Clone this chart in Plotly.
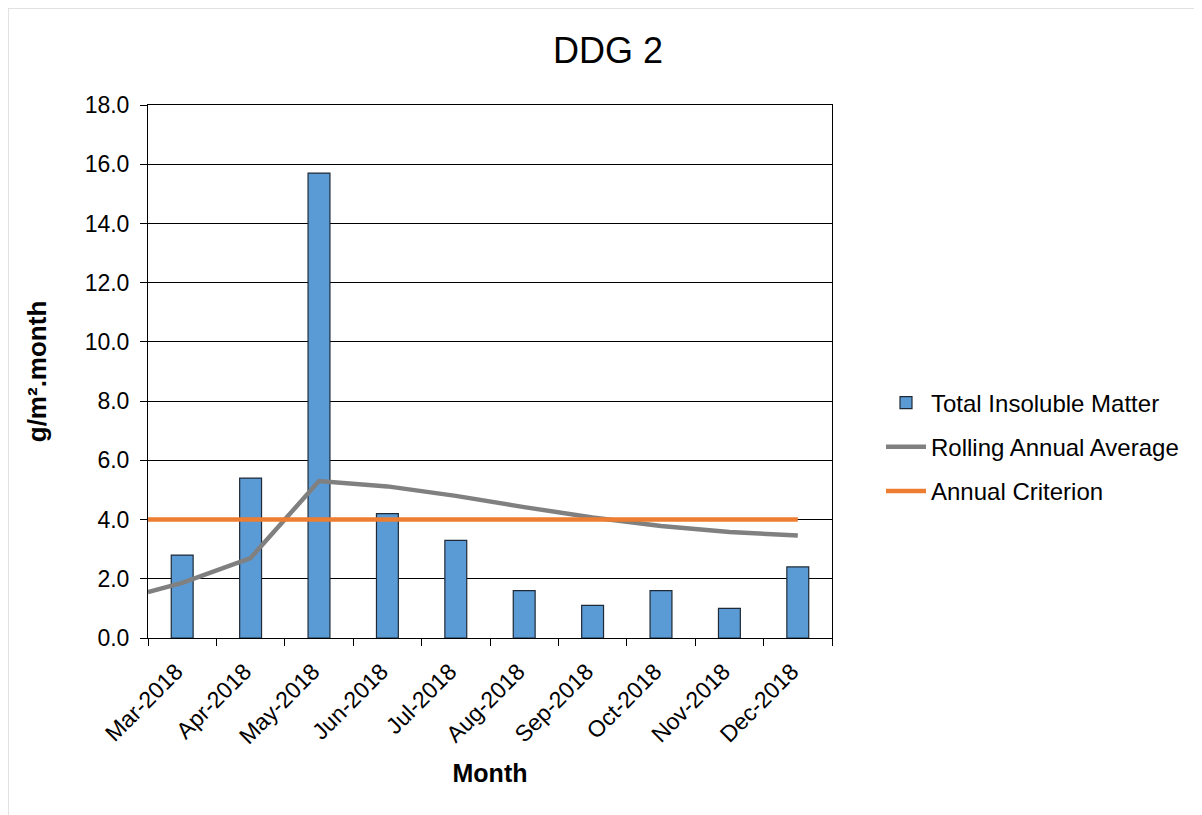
import plotly.graph_objects as go

# ---- data ----
months = ["Mar-2018", "Apr-2018", "May-2018", "Jun-2018", "Jul-2018",
          "Aug-2018", "Sep-2018", "Oct-2018", "Nov-2018", "Dec-2018"]
total_insoluble = [2.8, 5.4, 15.7, 4.2, 3.3, 1.6, 1.1, 1.6, 1.0, 2.4]
rolling_start = 1.55          # rolling average value shown at the left edge of the axis
rolling_avg = [1.86, 2.70, 5.30, 5.12, 4.80, 4.42, 4.07, 3.78, 3.58, 3.46]
annual_criterion = 4.0

# ---- layout geometry (page body has an 8px margin) ----
OFF = 8
W, H = 1202 - OFF, 815 - OFF
L, T = 148 - OFF, 105 - OFF
PW, PH = 684, 533
R, B = W - L - PW, H - T - PH
n = len(months)
idx = list(range(n))
edge = -0.5

font_family = "Liberation Sans, Arial, sans-serif"

fig = go.Figure()
fig.add_trace(go.Bar(
    x=months, y=total_insoluble, name="Total Insoluble Matter",
    marker=dict(color="#5B9BD5", line=dict(color="#1F2A36", width=1.2)),
    width=0.32, legendgroup="a", xaxis="x", yaxis="y",
))
fig.add_trace(go.Scatter(
    x=[edge] + idx, y=[rolling_start] + rolling_avg, name="Rolling Annual Average",
    mode="lines", line=dict(color="#808080", width=4.5), legendgroup="b",
    xaxis="x2", yaxis="y",
))
fig.add_trace(go.Scatter(
    x=[edge, idx[-1]], y=[annual_criterion, annual_criterion], name="Annual Criterion",
    mode="lines", line=dict(color="#ED7D31", width=4.5), legendgroup="c",
    xaxis="x2", yaxis="y",
))

# screen px -> paper coords
px = lambda v: (v - OFF - L) / PW
py = lambda v: (T + PH - (v - OFF)) / PH

fig.update_layout(
    width=W, height=H,
    margin=dict(l=L, r=R, t=T, b=B, autoexpand=False),
    paper_bgcolor="white", plot_bgcolor="white",
    font=dict(family=font_family, color="#000000", size=22),
    title=dict(text="DDG 2", x=(608 - OFF) / W, xanchor="center", y=1 - (50 - OFF) / H,
               yanchor="middle", font=dict(size=36, family=font_family, color="#000000")),
    showlegend=True,
    legend=dict(x=px(881), y=py(447), xanchor="left", yanchor="middle",
                font=dict(size=24, family=font_family, color="#000000"),
                tracegroupgap=10, bgcolor="rgba(0,0,0,0)", itemwidth=40),
    xaxis=dict(type="category", range=[edge, n - 0.5], tickson="boundaries",
               ticks="outside", ticklen=7, tickcolor="#000000", tickwidth=1,
               ticklabelstandoff=10, ticklabelshift=-6,
               showline=True, linecolor="#000000", linewidth=1, mirror=True,
               showgrid=False, tickangle=-45,
               tickfont=dict(size=23, family=font_family),
               title=dict(text="<b>Month</b>", font=dict(size=25, family=font_family), standoff=16)),
    xaxis2=dict(overlaying="x", range=[edge, n - 0.5], visible=False, fixedrange=True),
    yaxis=dict(range=[0, 18], dtick=2, tickformat=".1f",
               ticks="outside", ticklen=7, tickcolor="#000000", tickwidth=1,
               ticklabelstandoff=6,
               showline=True, linecolor="#000000", linewidth=1, mirror=True,
               showgrid=True, gridcolor="#000000", gridwidth=1, zeroline=False,
               tickfont=dict(size=23, family=font_family),
               title=dict(text="<b>g/m².month</b>", font=dict(size=26, family=font_family), standoff=30)),
    shapes=[
        dict(type="line", xref="paper", yref="paper", x0=px(OFF), x1=px(1210), y0=py(OFF), y1=py(OFF),
             line=dict(color="#D9D9D9", width=1.5)),
        dict(type="line", xref="paper", yref="paper", x0=px(OFF), x1=px(OFF), y0=py(OFF), y1=py(820),
             line=dict(color="#D9D9D9", width=1.5)),
    ],
)

fig.write_html("out.html")
